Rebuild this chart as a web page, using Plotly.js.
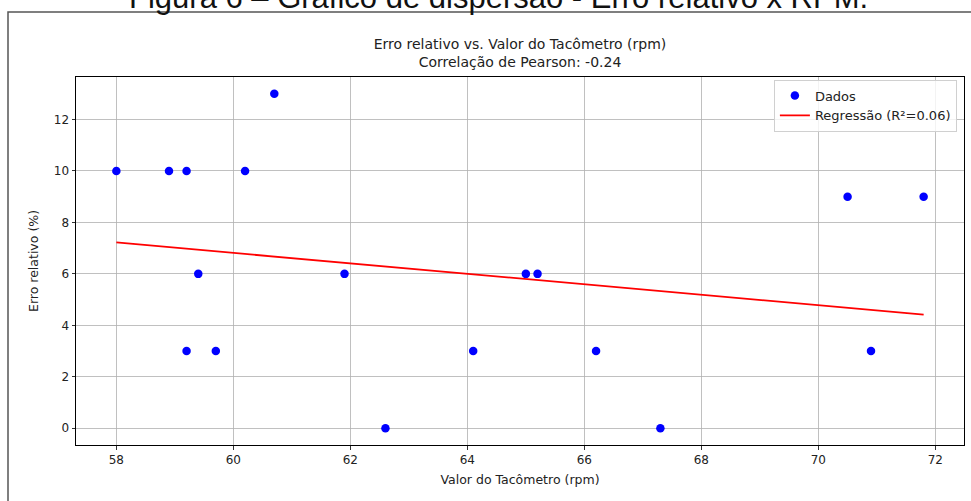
<!DOCTYPE html>
<html>
<head>
<meta charset="utf-8">
<script src="https://cdn.plot.ly/plotly-3.0.1.min.js"></script>
<style>
  html, body { margin: 0; padding: 0; background: #fff; }
  #chart { width: 971px; height: 501px; }
</style>
</head>
<body>
<div id="chart"></div>
<script>
// Data
const rpm = [58.0, 58.9, 59.2, 60.2, 60.7, 59.4, 59.2, 59.7, 61.9, 62.6, 64.1, 65.0, 65.2, 66.2, 67.3, 70.5, 70.9, 71.8];
const erro = [10, 10, 10, 10, 13, 6, 3, 3, 6, 0, 3, 6, 6, 3, 0, 9, 3, 9];
const regX = [58.0, 71.8];
const regY = [7.22, 4.42];
const xTicks = [58, 60, 62, 64, 66, 68, 70, 72];
const yTicks = [0, 2, 4, 6, 8, 10, 12];

const font = "DejaVu Sans, sans-serif";

const traces = [
  {
    x: rpm, y: erro, type: 'scatter', mode: 'markers', name: 'Dados',
    marker: { color: '#0000ff', size: 8.5 }
  },
  {
    x: regX, y: regY, type: 'scatter', mode: 'lines', name: 'Regressão (R²=0.06)',
    line: { color: '#ff0000', width: 1.8 }
  }
];

const axisCommon = {
  showgrid: true, gridcolor: '#b0b0b0', gridwidth: 0.8,
  showline: true, linecolor: '#000', linewidth: 1, mirror: true,
  ticks: 'outside', ticklen: 3.5, tickcolor: '#000', tickwidth: 0.8,
  zeroline: false,
  tickfont: { family: font, size: 12, color: '#222' }
};

const layout = {
  width: 971, height: 501,
  margin: { l: 76, r: 7, t: 77, b: 56 },
  paper_bgcolor: '#fff', plot_bgcolor: '#fff',
  font: { family: font, color: '#222' },
  showlegend: true,
  legend: {
    x: 0.992, xanchor: 'right', y: 1 - 2.5 / 368, yanchor: 'top',
    bgcolor: 'rgba(255,255,255,0.8)', bordercolor: '#d0d0d0', borderwidth: 1,
    font: { family: font, size: 13, color: '#222' },
    itemwidth: 30, tracegroupgap: 0
  },
  title: {
    text: 'Erro relativo vs. Valor do Tacômetro (rpm)<br>Correlação de Pearson: -0.24',
    font: { family: font, size: 14, color: '#222' },
    x: 0.5, xref: 'paper', xanchor: 'center',
    y: 1 - 49 / 501, yref: 'container', yanchor: 'middle'
  },
  xaxis: Object.assign({}, axisCommon, {
    range: [57.31, 72.49], tickvals: xTicks,
    title: { text: 'Valor do Tacômetro (rpm)', font: { family: font, size: 12.5, color: '#222' }, standoff: 9 }
  }),
  yaxis: Object.assign({}, axisCommon, {
    range: [-0.65, 13.65], tickvals: yTicks,
    title: { text: 'Erro relativo (%)', font: { family: font, size: 12.5, color: '#222' }, standoff: 12 }
  }),
  shapes: [
    {
      type: 'rect', xref: 'paper', yref: 'paper',
      x0: -68 / 888, x1: 1.2, y0: -0.5, y1: 1 + 65 / 368,
      line: { color: '#555', width: 1.5 }, fillcolor: 'rgba(0,0,0,0)', layer: 'below'
    }
  ],
  annotations: [
    {
      text: 'Figura 6 – Gráfico de dispersão - Erro relativo x RPM.',
      xref: 'paper', yref: 'paper', x: (498 - 76) / 888, y: 1 + (77 - 17) / 368,
      xanchor: 'center', yanchor: 'bottom', showarrow: false,
      font: { family: 'Liberation Sans, Arial, sans-serif', size: 31, color: '#111' }
    }
  ]
};

Plotly.newPlot('chart', traces, layout, { displayModeBar: false, staticPlot: true });
</script>
</body>
</html>
